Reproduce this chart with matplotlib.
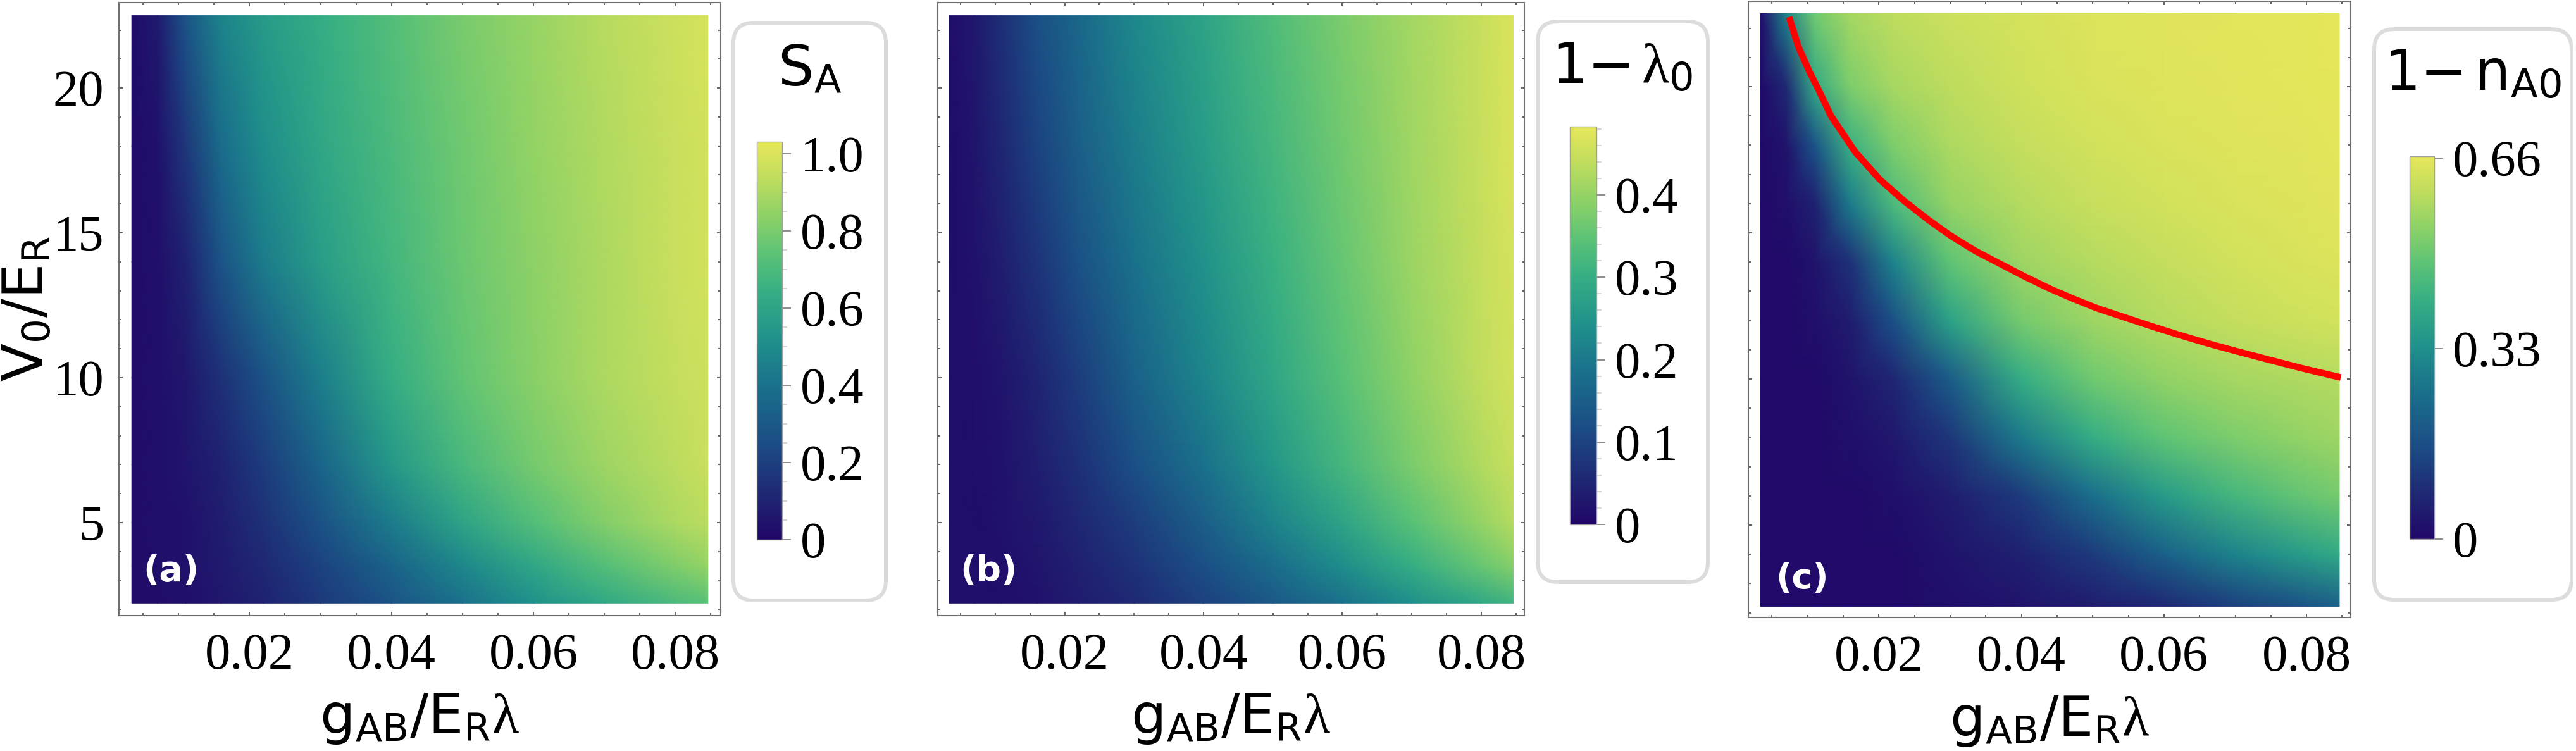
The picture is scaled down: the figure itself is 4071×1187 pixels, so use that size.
import numpy as np
import matplotlib
matplotlib.use("Agg")
import matplotlib.pyplot as plt
from matplotlib.colors import LinearSegmentedColormap, Normalize
from matplotlib.patches import FancyBboxPatch
from matplotlib.ticker import MultipleLocator, FixedLocator

plt.rcParams["font.family"] = ["Liberation Serif", "DejaVu Serif"]
plt.rcParams["mathtext.fontset"] = "custom"
plt.rcParams["mathtext.rm"] = "DejaVu Sans"
plt.rcParams["mathtext.it"] = "Liberation Serif"
plt.rcParams["mathtext.bf"] = "DejaVu Sans:bold"

# ---- data ----------------------------------------------------------------
g_grid = [0.0034, 0.007, 0.011, 0.016, 0.022, 0.03, 0.04, 0.05, 0.06, 0.07, 0.08, 0.0846]

V_ab = [2.22, 3.5, 5, 7, 10, 14, 18, 22.5]
S_A = [
    [0.02, 0.02, 0.03, 0.06, 0.10, 0.18, 0.28, 0.40, 0.52, 0.62, 0.70, 0.73],
    [0.02, 0.03, 0.04, 0.07, 0.12, 0.21, 0.34, 0.48, 0.61, 0.72, 0.81, 0.85],
    [0.02, 0.03, 0.04, 0.08, 0.15, 0.27, 0.44, 0.60, 0.72, 0.82, 0.90, 0.93],
    [0.02, 0.03, 0.05, 0.10, 0.19, 0.35, 0.55, 0.69, 0.79, 0.87, 0.93, 0.96],
    [0.02, 0.03, 0.06, 0.15, 0.27, 0.45, 0.64, 0.75, 0.83, 0.90, 0.95, 0.97],
    [0.02, 0.03, 0.10, 0.28, 0.44, 0.57, 0.68, 0.77, 0.84, 0.90, 0.96, 0.98],
    [0.02, 0.04, 0.17, 0.38, 0.51, 0.61, 0.70, 0.78, 0.85, 0.91, 0.96, 0.98],
    [0.02, 0.07, 0.28, 0.47, 0.56, 0.64, 0.72, 0.80, 0.86, 0.92, 0.97, 0.99],
]
one_minus_lam0 = [
    [0.010, 0.010, 0.014, 0.019, 0.034, 0.058, 0.097, 0.140, 0.188, 0.242, 0.290, 0.314],
    [0.010, 0.010, 0.014, 0.024, 0.043, 0.072, 0.121, 0.179, 0.237, 0.299, 0.357, 0.386],
    [0.010, 0.010, 0.019, 0.029, 0.053, 0.092, 0.150, 0.217, 0.280, 0.343, 0.401, 0.430],
    [0.010, 0.014, 0.019, 0.039, 0.068, 0.121, 0.188, 0.256, 0.319, 0.377, 0.425, 0.449],
    [0.010, 0.014, 0.024, 0.048, 0.092, 0.155, 0.222, 0.285, 0.343, 0.396, 0.440, 0.459],
    [0.010, 0.019, 0.039, 0.077, 0.126, 0.188, 0.246, 0.304, 0.357, 0.406, 0.444, 0.464],
    [0.010, 0.024, 0.053, 0.101, 0.150, 0.208, 0.266, 0.319, 0.367, 0.411, 0.449, 0.469],
    [0.010, 0.029, 0.068, 0.121, 0.169, 0.227, 0.280, 0.333, 0.377, 0.415, 0.449, 0.469],
]

V_c = [2.22, 4, 6, 8, 10, 12, 14, 16, 18, 20, 22.5]
one_minus_nA0 = [
    [0.01, 0.01, 0.01, 0.01, 0.01, 0.02, 0.03, 0.05, 0.08, 0.13, 0.18, 0.21],
    [0.01, 0.01, 0.01, 0.01, 0.01, 0.03, 0.06, 0.12, 0.21, 0.30, 0.37, 0.40],
    [0.01, 0.01, 0.01, 0.01, 0.02, 0.05, 0.12, 0.25, 0.36, 0.44, 0.49, 0.51],
    [0.01, 0.01, 0.01, 0.02, 0.04, 0.11, 0.28, 0.41, 0.48, 0.52, 0.55, 0.56],
    [0.01, 0.01, 0.01, 0.03, 0.07, 0.20, 0.41, 0.50, 0.545, 0.57, 0.585, 0.59],
    [0.01, 0.01, 0.02, 0.05, 0.17, 0.38, 0.51, 0.56, 0.59, 0.61, 0.625, 0.63],
    [0.01, 0.01, 0.03, 0.10, 0.30, 0.48, 0.56, 0.59, 0.61, 0.63, 0.64, 0.645],
    [0.01, 0.02, 0.06, 0.28, 0.45, 0.55, 0.59, 0.615, 0.63, 0.64, 0.65, 0.655],
    [0.01, 0.03, 0.18, 0.42, 0.52, 0.58, 0.61, 0.63, 0.64, 0.65, 0.655, 0.66],
    [0.01, 0.08, 0.40, 0.52, 0.57, 0.60, 0.625, 0.64, 0.65, 0.655, 0.66, 0.66],
    [0.02, 0.30, 0.50, 0.57, 0.60, 0.62, 0.635, 0.645, 0.652, 0.657, 0.66, 0.662],
]

# red boundary curve in panel (c)
red_g = [0.0074, 0.0087, 0.0102, 0.0116, 0.0133, 0.0167, 0.0201, 0.0235,
         0.0269, 0.0302, 0.0336, 0.0370, 0.0404, 0.0438, 0.0472, 0.0506,
         0.0537, 0.0583, 0.0622, 0.0661, 0.0700, 0.0739, 0.0793, 0.0848]
red_V = [22.38, 21.37, 20.54, 19.86, 18.99, 17.76, 16.83, 16.10,
         15.45, 14.88, 14.37, 13.94, 13.51, 13.11, 12.75, 12.42,
         12.17, 11.80, 11.50, 11.22, 10.96, 10.71, 10.37, 10.05]

cbar_max = [1.031, 0.483, 0.663]
cbar_ticks = [[0, 0.2, 0.4, 0.6, 0.8, 1.0], [0, 0.1, 0.2, 0.3, 0.4], [0, 0.33, 0.66]]
cbar_ticklabels = [["0", "0.2", "0.4", "0.6", "0.8", "1.0"],
                   ["0", "0.1", "0.2", "0.3", "0.4"],
                   ["0", "0.33", "0.66"]]
cbar_minor = [0.05, 0.02, None]
cbar_titles = [r"$\mathrm{S}_\mathrm{A}$",
               r"$\mathrm{1}{-}\,\lambda_\mathrm{0}$",
               r"$\mathrm{1}{-}\,\mathrm{n}_\mathrm{A0}$"]
panel_tags = ["(a)", "(b)", "(c)"]

cmap = LinearSegmentedColormap.from_list("mma_viridis", [
    (0.00, "#210768"), (0.12, "#1f2a74"), (0.25, "#1b4f86"), (0.38, "#1a6f8b"),
    (0.50, "#1f908b"), (0.62, "#35ad84"), (0.72, "#5cc376"), (0.82, "#8fd266"),
    (0.91, "#c0dd5e"), (1.00, "#e6e65a")])

# ---- layout (pixel boxes measured on the 4071x1187 original) -------------
W, H, DPI = 4071, 1187, 100
fig = plt.figure(figsize=(W / DPI, H / DPI), dpi=DPI)
fig.patch.set_facecolor("white")


def add_px_axes(x0, y0, x1, y1):
    return fig.add_axes([x0 / W, 1 - y1 / H, (x1 - x0) / W, (y1 - y0) / H])


frames = [(188, 4, 1139, 973), (1482, 4, 2409, 973), (2763, 2, 3715, 976)]
xlims = [(0.0016, 0.0864), (0.00173, 0.0862), (0.00169, 0.0862)]
ylims = [(1.79, 22.95), (1.79, 22.95), (1.84, 22.92)]
cbar_boxes = [(1196, 224, 1236, 853), (2481, 200, 2523, 829), (3808, 247, 3847, 852)]
round_boxes = [(1156, 33, 1403, 952), (2427, 31, 2702, 923), (3749, 43, 4067, 951)]
title_pos = [(1280, 135), (2564, 132), (3908, 143)]
tag_pos = [(0.040, 0.057), (0.038, 0.057), (0.045, 0.047)]

fields = [(V_ab, S_A), (V_ab, one_minus_lam0), (V_c, one_minus_nA0)]

TICK_FS = 58
LABEL_FS = 63

for i in range(3):
    ax = add_px_axes(*frames[i])
    Vs, Z = fields[i]
    G, VV = np.meshgrid(g_grid, Vs)
    norm = Normalize(0, cbar_max[i])
    mesh = ax.pcolormesh(G, VV, np.array(Z), shading="gouraud", cmap=cmap,
                         norm=norm, rasterized=True)
    if i == 2:
        ax.plot(red_g, red_V, color="#ff0000", lw=7.5, solid_capstyle="butt",
                solid_joinstyle="round", zorder=3)
    ax.set_xlim(*xlims[i])
    ax.set_ylim(*ylims[i])

    ax.xaxis.set_major_locator(FixedLocator([0.02, 0.04, 0.06, 0.08]))
    ax.xaxis.set_minor_locator(MultipleLocator(0.005))
    ax.set_xticklabels(["0.02", "0.04", "0.06", "0.08"])
    ax.yaxis.set_major_locator(MultipleLocator(5))
    ax.yaxis.set_minor_locator(MultipleLocator(1))
    ax.tick_params(which="both", direction="in", top=True, right=True,
                   color="#555555", width=1.3)
    ax.tick_params(which="major", length=4.5, labelsize=TICK_FS)
    ax.tick_params(which="minor", length=2.8)
    ax.tick_params(axis="x", pad=20)
    ax.tick_params(axis="y", pad=17)
    for sp in ax.spines.values():
        sp.set_color("#6e6e6e")
        sp.set_linewidth(1.5)

    ax.set_xlabel(r"$\mathrm{g}_\mathrm{AB}/\mathrm{E}_\mathrm{R}\lambda$",
                  fontsize=LABEL_FS)
    ax.xaxis.set_label_coords(0.5, -0.124)
    if i == 0:
        ax.set_yticks([5, 10, 15, 20])
        ax.set_yticklabels(["5", "10", "15", "20"])
        ax.set_ylabel(r"$\mathrm{V}_\mathrm{0}/\mathrm{E}_\mathrm{R}$",
                      fontsize=LABEL_FS)
        ax.yaxis.set_label_coords(-0.107, 0.5)
    else:
        ax.tick_params(axis="y", labelleft=False)

    ax.text(tag_pos[i][0], tag_pos[i][1], panel_tags[i], transform=ax.transAxes,
            color="white", fontsize=40, fontweight="bold", family="DejaVu Sans",
            va="baseline", ha="left", zorder=4)

    # rounded legend frame around the colour bar
    bx0, by0, bx1, by1 = round_boxes[i]
    box = FancyBboxPatch(((bx0 + 3) / DPI, (H - by1 + 3) / DPI),
                         (bx1 - bx0 - 6) / DPI, (by1 - by0 - 6) / DPI,
                         boxstyle="round,pad=0,rounding_size=0.32",
                         transform=fig.dpi_scale_trans, facecolor="white",
                         edgecolor="#dcdcdc", linewidth=4.3, zorder=-1)
    fig.add_artist(box)

    cax = add_px_axes(*cbar_boxes[i])
    cb = fig.colorbar(mesh, cax=cax)
    cb.set_ticks(cbar_ticks[i], labels=cbar_ticklabels[i])
    if cbar_minor[i]:
        cax.yaxis.set_minor_locator(MultipleLocator(cbar_minor[i]))
    else:
        cax.yaxis.set_minor_locator(FixedLocator([]))
    cb.outline.set_edgecolor("#a0a0a0")
    cb.outline.set_linewidth(1.0)
    cax.tick_params(which="major", length=10, width=1.4, color="#8c8c8c",
                    labelsize=TICK_FS, pad=11)
    cax.tick_params(which="minor", length=6, width=1.2, color="#cfcfcf")

    tx, ty = title_pos[i]
    fig.text(tx / DPI, (H - ty) / DPI, cbar_titles[i], transform=fig.dpi_scale_trans,
             fontsize=64, ha="center", va="baseline")

fig.savefig("out.png", dpi=DPI)
